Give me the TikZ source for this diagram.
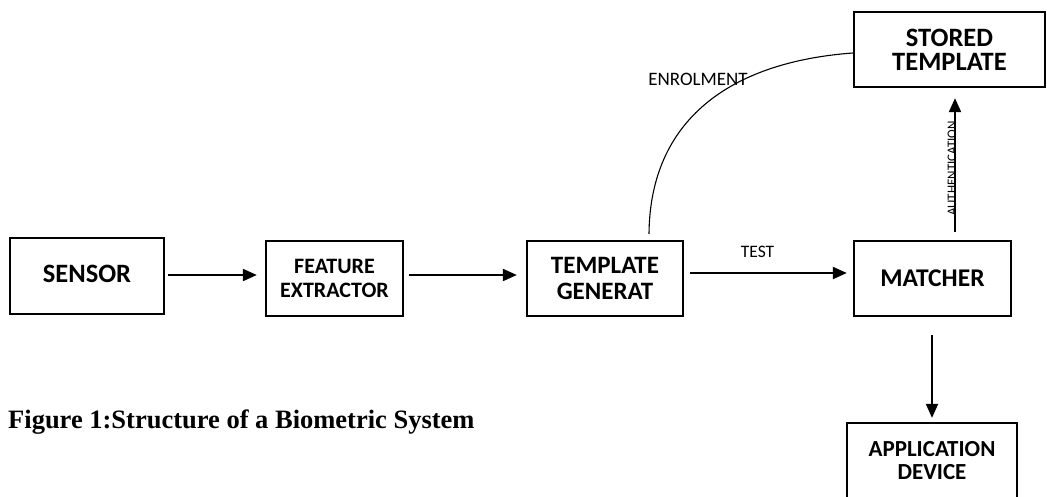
\documentclass[tikz,border=0pt]{standalone}
\usepackage{fontspec}
\setmainfont{Liberation Serif}
\newfontfamily\calib{Carlito}
\usetikzlibrary{arrows.meta}
\tikzset{
  box/.style={draw, line width=2.3pt, inner sep=0pt, align=center,
    font=\calib\bfseries\fontsize{25}{26}\selectfont},
  arr/.style={line width=2pt, -{Triangle[length=14pt,width=12pt]}},
  lbl/.style={inner sep=0pt, font=\calib\fontsize{17.5}{17}\selectfont},
}
\begin{document}
\begin{tikzpicture}[x=1pt, y=-1pt]
  \useasboundingbox (0,0) rectangle (1047,496);

  % processing chain
  \node[box, minimum width=154, minimum height=76,
        font=\calib\bfseries\fontsize{26.5}{27}\selectfont]
        (sensor) at (87,276) {\raisebox{5pt}{SENSOR}};
  \node[box, minimum width=137, minimum height=75,
        font=\calib\bfseries\fontsize{22}{24}\selectfont]
        (feature) at (334.5,278.5) {FEATURE\\EXTRACTOR};
  \node[box, minimum width=156, minimum height=75]
        (tgen) at (605,278.5) {TEMPLATE\\GENERAT};
  \node[box, minimum width=157, minimum height=75,
        font=\calib\bfseries\fontsize{25.5}{26}\selectfont]
        (matcher) at (932.5,278.5) {MATCHER};
  \node[box, minimum width=191, minimum height=75,
        font=\calib\bfseries\fontsize{26.5}{24}\selectfont]
        (stored) at (949.5,49.5) {STORED\\TEMPLATE};
  \node[box, minimum width=170, minimum height=75,
        font=\calib\bfseries\fontsize{23}{23}\selectfont]
        (app) at (932,460.5) {APPLICATION\\DEVICE};

  % connectors
  \draw[arr] ([xshift=3pt,yshift=1pt]sensor.east) -- ([xshift=-8pt,yshift=3.5pt]feature.west);
  \draw[arr] ([xshift=5pt,yshift=3.5pt]feature.east) -- ([xshift=-9pt,yshift=3.5pt]tgen.west);
  \draw[arr] ([xshift=6pt,yshift=5.5pt]tgen.east) -- ([xshift=-6pt,yshift=5.5pt]matcher.west)
     node[lbl, pos=0.43, above=14pt] (test) {TEST};
  \draw[arr] ([xshift=-0.5pt,yshift=-18pt]matcher.south) -- ([yshift=4pt]app.north);
  \draw[arr] ([xshift=22.5pt,yshift=8pt]matcher.north) -- ([xshift=5.5pt,yshift=-10pt]stored.south);
  \node[inner sep=0pt, rotate=90, font=\calib\fontsize{13}{13}\selectfont]
        (auth) at (952,168.5) {AUTHENTICATION};

  % enrolment path
  \draw[line width=1.1pt] ([xshift=44pt,yshift=6pt]tgen.north)
     .. controls (650,120) and (730,62) .. ([yshift=-3.5pt]stored.west);
  \node[lbl, font=\calib\fontsize{19}{19}\selectfont] (enrol) at (698,79) {ENROLMENT};

  % caption
  \node[anchor=base west, inner sep=0pt, font=\bfseries\fontsize{26.5}{27}\selectfont]
        (caption) at (8,428) {Figure 1:Structure of a Biometric System};
\end{tikzpicture}
\end{document}
